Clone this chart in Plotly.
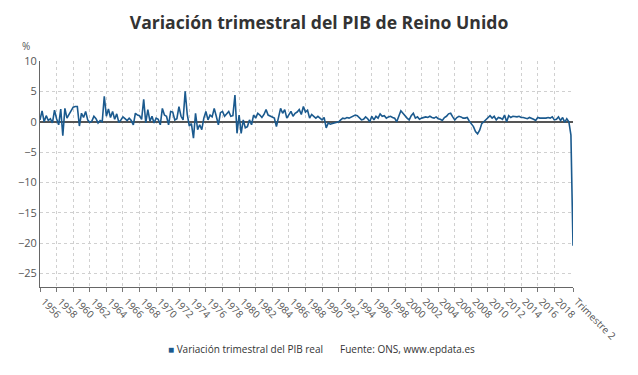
import plotly.graph_objects as go

# Quarterly GDP change (%), United Kingdom, 1956 T1 .. 2020 T2
variacion = [
    0.3, 1.8, 0.0, 1.0, 0.2, 0.5, -0.2, 1.9, 0.5, -0.5,
    2.1, -2.3, 2.2, 0.6, 1.2, 1.8, 2.4, 2.5, 2.5, -0.7,
    1.4, 0.7, 1.7, 0.3, -0.1, 0.1, 0.9, 0.5, -0.2, 0.2,
    0.0, 4.2, 0.9, 2.1, 0.7, 1.7, 0.4, 1.3, -0.1, 0.3,
    0.8, 0.5, 0.2, 0.6, 0.2, -0.5, 1.4, 1.1, 1.0, 0.4,
    3.7, -0.2, 2.0, 0.1, 0.9, -0.2, 0.6, 0.4, -0.5, 2.2,
    1.1, 0.9, -0.5, 1.7, 1.6, 0.3, 0.5, 2.5, 0.9, 0.3,
    5.0, 1.2, -0.7, -0.3, -2.7, 1.4, -1.3, -0.5, -1.3, 0.6,
    1.7, 0.3, 1.1, 0.8, 2.2, 0.9, -0.5, 1.5, 1.7, 0.9,
    1.4, 1.7, 0.9, 1.0, 4.4, -1.9, 1.1, -1.9, 0.3, -1.0,
    -0.8, 0.3, -0.5, 1.1, 0.6, 1.4, 1.1, 0.7, 1.2, 2.0,
    1.1, 0.9, 0.7, 0.6, -0.8, 0.9, 2.2, 1.4, 2.0, 0.6,
    1.1, 1.7, 0.9, 1.4, 1.6, 2.0, 1.2, 2.5, 1.6, 1.9,
    0.6, 1.2, 0.9, 0.6, 0.9, 0.6, 0.3, 0.7, -1.0, -0.2,
    -0.4, -0.3, -0.2, -0.1, 0.0, 0.3, 0.6, 0.5, 0.7, 0.6,
    0.8, 0.9, 1.1, 1.0, 0.6, 0.3, 0.4, 0.8, 0.5, 0.0,
    0.9, 0.3, 0.9, 0.6, 1.3, 0.9, 1.0, 0.6, 0.8, 0.9,
    0.7, 0.6, 0.0, 1.0, 1.8, 1.4, 0.9, 0.6, 0.3, 1.0,
    1.4, 0.6, 0.8, 0.4, 0.6, 0.7, 0.8, 0.7, 0.9, 0.7,
    0.6, 0.8, 0.5, 0.4, 0.2, 0.7, 0.9, 1.3, 1.4, 0.8,
    0.3, 0.7, 0.9, 0.8, 0.6, 0.6, 0.7, 0.1, -0.4, -0.8,
    -1.6, -2.0, -1.4, -0.3, 0.0, 0.3, 0.6, 1.0, 0.6, 0.9,
    0.3, 0.7, 0.6, 0.4, 1.1, 0.0, 1.0, 0.7, 0.9, 0.8,
    0.8, 0.9, 0.7, 0.7, 0.6, 0.5, 0.7, 0.6, 0.4, 0.2,
    0.7, 0.6, 0.6, 0.5, 0.6, 0.7, 0.6, 0.8, 0.3, 0.4,
    0.8, 0.2, 0.7, -0.1, 0.5, 0.0, -2.2, -20.4,
]

anio_inicio = 1956
trimestres = [f"{anio_inicio + k // 4} T{k % 4 + 1}" for k in range(len(variacion))]

etiquetas_x = [
    "1956", "1958", "1960", "1962", "1964", "1966", "1968", "1970",
    "1972", "1974", "1976", "1978", "1980", "1982", "1984", "1986",
    "1988", "1990", "1992", "1994", "1996", "1998", "2000", "2002",
    "2004", "2006", "2008", "2010", "2012", "2014", "2016", "2018",
    "Trimestre 2",
]
etiquetas_pos = [trimestres.index(f"{e} T1") for e in etiquetas_x[:-1]] + [len(trimestres) - 1]

valores_y = [10, 5, 0, -5, -10, -15, -20, -25]

AZUL = "#1b5a8e"
FONT = "Open Sans"

x_idx = list(range(len(variacion)))

fig = go.Figure()
fig.add_trace(go.Scatter(
    x=x_idx, y=variacion, mode="lines",
    line=dict(color=AZUL, width=1.6),
    text=trimestres, hovertemplate="%{text}: %{y}%<extra></extra>",
    showlegend=False,
))

fig.update_layout(
    width=638, height=375,
    margin=dict(l=40, r=65, t=61, b=88, autoexpand=False),
    paper_bgcolor="white", plot_bgcolor="white",
    font=dict(family=FONT, color="#555"),
    title=dict(
        text="<b>Variación trimestral del PIB de Reino Unido</b>",
        x=0.5, xanchor="center", y=1 - 23 / 375, yanchor="middle",
        yref="container",
        font=dict(family=FONT, size=17.6, color="#333"),
    ),
    xaxis=dict(
        range=[0, len(variacion) - 1],
        tickmode="array", tickvals=etiquetas_pos, ticktext=etiquetas_x,
        tickangle=45, tickfont=dict(size=10, color="#555"),
        ticklabelshift=4,
        showgrid=True, gridcolor="#d0d0d0", griddash="dot", gridwidth=1,
        showline=True, linecolor="#666", linewidth=1,
        ticks="outside", ticklen=4, tickcolor="#777",
        zeroline=False, automargin=False,
    ),
    yaxis=dict(
        range=[-27.2, 10],
        tickmode="array", tickvals=valores_y,
        tickfont=dict(size=11, color="#555"),
        showgrid=True, gridcolor="#d0d0d0", griddash="dot", gridwidth=1,
        showline=True, linecolor="#666", linewidth=1,
        zeroline=True, zerolinecolor="#555", zerolinewidth=1.5,
        ticks="", ticklen=0, automargin=False,
    ),
    annotations=[
        dict(text="%", xref="paper", yref="paper", x=-0.026, y=1.065,
             showarrow=False, font=dict(size=10, color="#555"), xanchor="center", yanchor="middle"),
        dict(text=f"<span style='color:{AZUL}'>■</span> Variación trimestral del PIB real",
             xref="paper", yref="paper", x=(166 - 40) / 533, y=-(349 - 287) / 226,
             xanchor="left", yanchor="middle", showarrow=False,
             font=dict(size=10, color="#333")),
        dict(text="Fuente: ONS, www.epdata.es",
             xref="paper", yref="paper", x=(338 - 40) / 533, y=-(349 - 287) / 226,
             xanchor="left", yanchor="middle", showarrow=False,
             font=dict(size=10, color="#333")),
    ],
)

fig.write_html("out.html", config={"displayModeBar": False},
               post_script="document.body.style.margin='0';")
